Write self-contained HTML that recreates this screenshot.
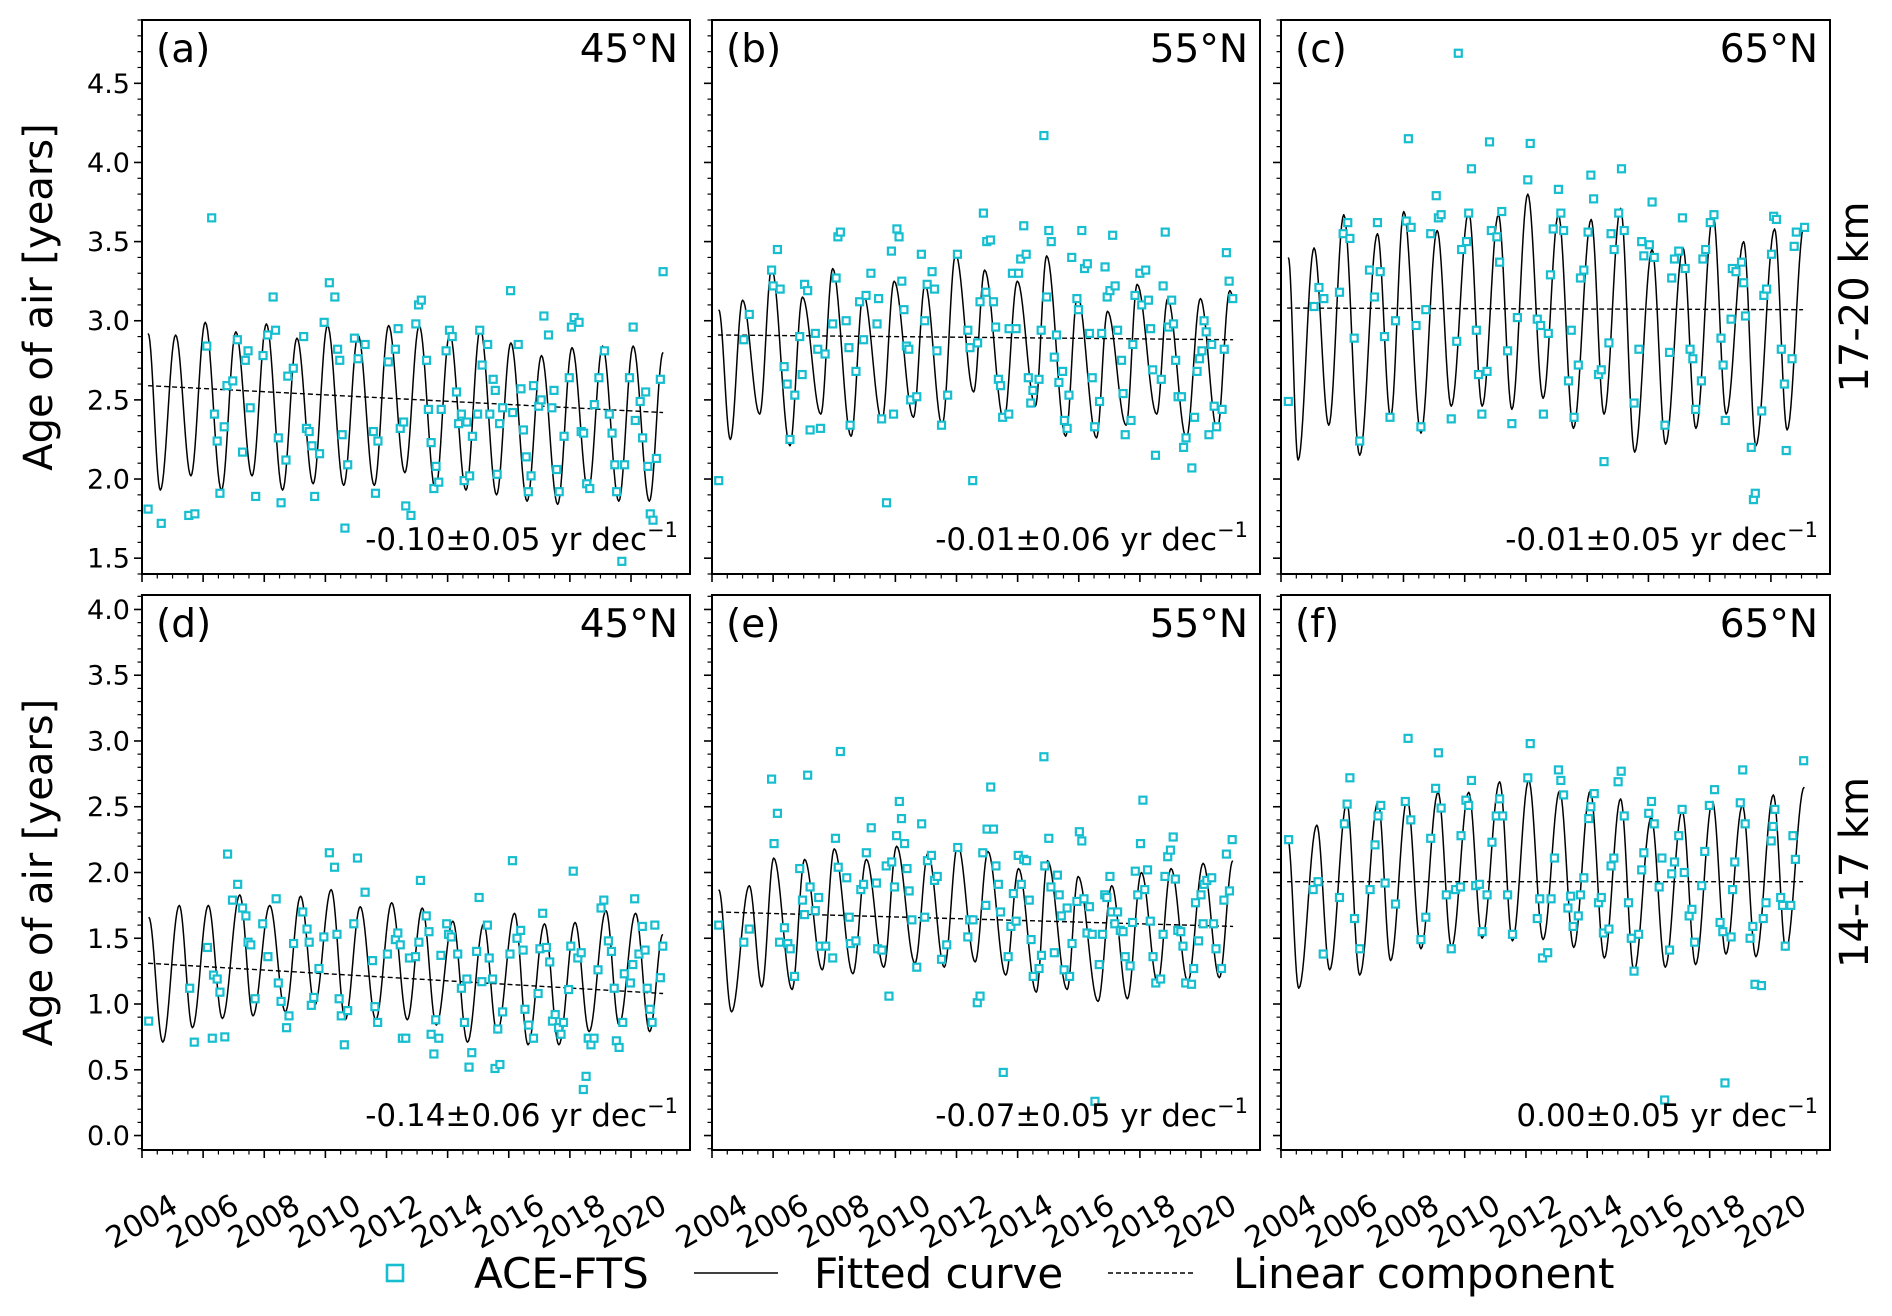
<!DOCTYPE html>
<html><head><meta charset="utf-8"><style>
html,body{margin:0;padding:0;background:#fff;}
svg{display:block;font-family:"DejaVu Sans","Liberation Sans",sans-serif;}
</style></head><body>
<svg id="chart" width="1892" height="1316" viewBox="0 0 1892 1316" xmlns="http://www.w3.org/2000/svg"></svg>
<script>
// ---------- data ----------
const xTickLabels = ["2004","2006","2008","2010","2012","2014","2016","2018","2020"];
const yTickLabelsTop = ["1.5","2.0","2.5","3.0","3.5","4.0","4.5"];
const yTickLabelsBottom = ["0.0","0.5","1.0","1.5","2.0","2.5","3.0","3.5","4.0"];
const panelTags = ["(a)","(b)","(c)","(d)","(e)","(f)"];
const panelLats = ["45°N","55°N","65°N","45°N","55°N","65°N"];
const trendTexts = ["-0.10±0.05 yr dec","-0.01±0.06 yr dec","-0.01±0.05 yr dec","-0.14±0.06 yr dec","-0.07±0.05 yr dec","0.00±0.05 yr dec"];
const rowLabels = ["17-20 km","14-17 km"];

const trendYears = [2004.2, 2021.05];
const trend_a = [2.59, 2.42];
const trend_b = [2.91, 2.88];
const trend_c = [3.08, 3.07];
const trend_d = [1.31, 1.08];
const trend_e = [1.70, 1.59];
const trend_f = [1.93, 1.93];

const fit_a = [[2004.2,2.92],[2004.6,1.93],[2005.1,2.91],[2005.6,2.02],[2006.07,2.99],[2006.6,1.93],[2007.07,2.93],[2007.6,2.02],[2008.07,2.98],[2008.6,1.93],[2009.07,2.89],[2009.6,1.97],[2010.07,2.97],[2010.6,1.96],[2011.07,2.91],[2011.6,1.96],[2012.07,2.97],[2012.6,2.04],[2013.07,2.97],[2013.6,1.93],[2014.07,2.92],[2014.6,1.93],[2015.07,2.95],[2015.6,1.90],[2016.07,2.86],[2016.6,1.86],[2017.07,2.78],[2017.6,1.84],[2018.07,2.83],[2018.6,1.92],[2019.07,2.84],[2019.6,1.86],[2020.07,2.84],[2020.6,1.86],[2021.05,2.80]];
const fit_b = [[2004.22,3.07],[2004.6,2.25],[2005.0,3.13],[2005.56,2.41],[2005.95,3.33],[2006.55,2.21],[2006.96,3.15],[2007.56,2.41],[2007.95,3.33],[2008.55,2.27],[2008.95,3.17],[2009.56,2.37],[2009.96,3.25],[2010.59,2.39],[2010.97,3.23],[2011.53,2.34],[2011.97,3.42],[2012.56,2.55],[2012.92,3.32],[2013.55,2.37],[2013.99,3.25],[2014.58,2.46],[2014.95,3.41],[2015.57,2.27],[2015.96,3.16],[2016.58,2.26],[2016.94,3.06],[2017.55,2.34],[2017.91,3.23],[2018.55,2.41],[2018.91,3.14],[2019.52,2.26],[2019.98,3.14],[2020.53,2.31],[2020.94,3.19],[2021.04,3.16]];
const fit_c = [[2004.24,3.40],[2004.56,2.12],[2005.08,3.46],[2005.56,2.34],[2006.05,3.67],[2006.57,2.15],[2007.15,3.55],[2007.58,2.39],[2008.01,3.69],[2008.57,2.29],[2009.1,3.57],[2009.56,2.46],[2010.13,3.69],[2010.57,2.46],[2011.1,3.67],[2011.54,2.44],[2012.06,3.80],[2012.56,2.51],[2013.06,3.67],[2013.55,2.32],[2014.13,3.64],[2014.55,2.41],[2015.09,3.71],[2015.55,2.17],[2016.12,3.45],[2016.56,2.22],[2017.13,3.46],[2017.55,2.32],[2018.11,3.67],[2018.54,2.41],[2019.11,3.50],[2019.51,2.21],[2020.12,3.58],[2020.53,2.31],[2021.09,3.61]];
const fit_d = [[2004.22,1.66],[2004.68,0.71],[2005.22,1.75],[2005.65,0.82],[2006.17,1.75],[2006.63,0.89],[2007.2,1.83],[2007.63,0.91],[2008.18,1.75],[2008.69,0.94],[2009.19,1.82],[2009.65,0.99],[2010.19,1.87],[2010.65,0.88],[2011.14,1.74],[2011.65,0.88],[2012.17,1.77],[2012.68,0.88],[2013.17,1.73],[2013.63,0.84],[2014.17,1.63],[2014.65,0.71],[2015.18,1.61],[2015.62,0.78],[2016.19,1.69],[2016.63,0.69],[2017.17,1.61],[2017.64,0.69],[2018.17,1.62],[2018.63,0.79],[2019.18,1.71],[2019.61,0.84],[2020.15,1.69],[2020.61,0.79],[2021.04,1.53]];
const fit_e = [[2004.22,1.87],[2004.64,0.94],[2005.22,1.90],[2005.63,1.13],[2006.02,2.11],[2006.62,1.11],[2007.03,2.10],[2007.61,1.26],[2008.0,2.18],[2008.61,1.23],[2009.05,2.10],[2009.62,1.28],[2010.04,2.20],[2010.64,1.31],[2011.07,2.15],[2011.6,1.28],[2012.04,2.21],[2012.61,1.32],[2013.03,2.16],[2013.61,1.22],[2014.03,2.03],[2014.61,1.09],[2014.98,2.09],[2015.62,1.11],[2015.98,1.97],[2016.63,1.02],[2017.08,1.90],[2017.59,1.04],[2018.05,2.00],[2018.58,1.16],[2019.02,2.03],[2019.57,1.17],[2020.07,2.07],[2020.6,1.20],[2021.04,2.09]];
const fit_f = [[2004.22,2.26],[2004.58,1.12],[2005.17,2.36],[2005.59,1.26],[2006.15,2.53],[2006.57,1.22],[2007.17,2.54],[2007.58,1.33],[2008.12,2.56],[2008.57,1.42],[2009.13,2.61],[2009.57,1.43],[2010.13,2.61],[2010.57,1.50],[2011.14,2.69],[2011.56,1.48],[2012.09,2.70],[2012.56,1.49],[2013.1,2.62],[2013.56,1.43],[2014.1,2.62],[2014.56,1.35],[2015.09,2.56],[2015.53,1.25],[2016.09,2.42],[2016.55,1.28],[2017.1,2.47],[2017.54,1.30],[2018.09,2.54],[2018.53,1.38],[2019.07,2.51],[2019.51,1.36],[2020.08,2.59],[2020.49,1.41],[2021.09,2.65]];

const obs_a = [[2004.2,1.81],[2004.63,1.72],[2005.53,1.77],[2005.73,1.78],[2006.12,2.84],[2006.28,3.65],[2006.37,2.41],[2006.46,2.24],[2006.55,1.91],[2006.69,2.33],[2006.78,2.59],[2006.97,2.62],[2007.12,2.88],[2007.38,2.75],[2007.47,2.81],[2007.54,2.45],[2007.29,2.17],[2007.72,1.89],[2007.96,2.78],[2008.11,2.91],[2008.29,3.15],[2008.37,2.94],[2008.46,2.26],[2008.55,1.85],[2008.71,2.12],[2008.77,2.65],[2008.95,2.70],[2009.29,2.90],[2009.38,2.32],[2009.47,2.30],[2009.56,2.21],[2009.65,1.89],[2009.81,2.16],[2009.96,2.99],[2010.13,3.24],[2010.31,3.15],[2010.4,2.82],[2010.47,2.75],[2010.55,2.28],[2010.64,1.69],[2010.73,2.09],[2010.95,2.89],[2011.07,2.76],[2011.3,2.85],[2011.57,2.30],[2011.64,1.91],[2011.72,2.24],[2012.06,2.74],[2012.29,2.82],[2012.38,2.95],[2012.45,2.32],[2012.56,2.36],[2012.63,1.83],[2012.8,1.77],[2012.96,2.98],[2013.05,3.10],[2013.14,3.13],[2013.31,2.75],[2013.46,2.23],[2013.55,1.94],[2013.62,2.08],[2013.71,1.98],[2013.37,2.44],[2013.79,2.44],[2013.95,2.81],[2014.06,2.94],[2014.15,2.90],[2014.29,2.55],[2014.36,2.35],[2014.45,2.41],[2014.54,1.99],[2014.63,2.36],[2014.72,2.02],[2014.81,2.27],[2014.98,2.41],[2015.05,2.94],[2015.13,2.72],[2015.31,2.85],[2015.38,2.41],[2015.49,2.63],[2015.56,2.56],[2015.62,2.03],[2015.7,2.35],[2015.8,2.45],[2016.06,3.19],[2016.13,2.42],[2016.31,2.85],[2016.4,2.57],[2016.48,2.31],[2016.57,2.14],[2016.64,1.92],[2016.73,2.02],[2016.81,2.59],[2016.98,2.46],[2017.06,2.50],[2017.15,3.03],[2017.3,2.91],[2017.41,2.45],[2017.48,2.56],[2017.57,2.06],[2017.65,1.92],[2017.81,2.27],[2017.98,2.64],[2018.05,2.96],[2018.14,3.02],[2018.3,2.99],[2018.37,2.30],[2018.45,2.29],[2018.55,1.97],[2018.65,1.94],[2018.8,2.47],[2018.95,2.64],[2019.13,2.81],[2019.29,2.41],[2019.38,2.29],[2019.47,2.09],[2019.53,1.92],[2019.7,1.48],[2019.79,2.09],[2019.95,2.64],[2020.07,2.96],[2020.14,2.37],[2020.3,2.49],[2020.38,2.26],[2020.48,2.55],[2020.55,2.08],[2020.63,1.78],[2020.72,1.74],[2020.83,2.13],[2020.96,2.63],[2021.05,3.31]];
const obs_b = [[2004.22,1.99],[2005.04,2.88],[2005.22,3.04],[2005.95,3.32],[2006.14,3.45],[2006.0,3.22],[2006.23,3.20],[2006.36,2.71],[2006.46,2.60],[2006.55,2.25],[2006.71,2.53],[2006.95,2.66],[2006.87,2.90],[2007.03,3.23],[2007.13,3.19],[2007.21,2.31],[2007.38,2.92],[2007.46,2.82],[2007.55,2.32],[2007.7,2.79],[2007.95,2.98],[2008.06,3.27],[2008.12,3.53],[2008.2,3.56],[2008.39,3.00],[2008.48,2.83],[2008.52,2.34],[2008.71,2.68],[2008.83,3.12],[2008.96,2.88],[2009.04,3.16],[2009.2,3.30],[2009.4,2.98],[2009.45,3.14],[2009.55,2.38],[2009.71,1.85],[2009.87,3.44],[2009.94,2.41],[2010.05,3.58],[2010.12,3.53],[2010.21,3.25],[2010.28,3.07],[2010.36,2.84],[2010.44,2.82],[2010.5,2.50],[2010.7,2.52],[2010.85,3.42],[2010.96,3.00],[2011.04,3.23],[2011.2,3.31],[2011.28,3.20],[2011.36,2.81],[2011.51,2.34],[2011.71,2.53],[2012.03,3.42],[2012.37,2.94],[2012.44,2.83],[2012.53,1.99],[2012.69,2.86],[2012.77,3.12],[2012.88,3.68],[2012.99,3.50],[2013.11,3.51],[2012.96,3.18],[2013.21,3.12],[2013.28,2.96],[2013.37,2.63],[2013.44,2.59],[2013.51,2.39],[2013.71,2.41],[2013.72,2.95],[2013.83,3.30],[2013.95,2.95],[2014.03,3.30],[2014.1,3.39],[2014.2,3.60],[2014.28,3.42],[2014.35,2.64],[2014.43,2.48],[2014.5,2.56],[2014.7,2.63],[2014.77,2.94],[2014.86,4.17],[2014.95,3.15],[2015.02,3.57],[2015.1,3.50],[2015.2,2.77],[2015.27,2.91],[2015.35,2.61],[2015.47,2.68],[2015.53,2.37],[2015.62,2.32],[2015.68,2.53],[2015.77,3.40],[2015.94,3.14],[2015.99,3.07],[2016.1,3.57],[2016.19,3.33],[2016.28,3.36],[2016.35,2.92],[2016.44,2.64],[2016.52,2.33],[2016.68,2.49],[2016.75,2.92],[2016.86,3.34],[2016.93,3.15],[2017.02,3.19],[2017.11,3.54],[2017.19,3.22],[2017.27,2.94],[2017.4,2.75],[2017.45,2.54],[2017.52,2.28],[2017.71,2.37],[2017.77,2.85],[2017.84,3.16],[2018.0,3.30],[2018.19,3.32],[2018.06,3.10],[2018.28,3.13],[2018.35,2.95],[2018.42,2.69],[2018.51,2.15],[2018.7,2.63],[2018.76,3.22],[2018.83,3.56],[2018.94,2.96],[2019.04,3.13],[2019.1,2.98],[2019.17,2.75],[2019.25,2.52],[2019.36,2.52],[2019.43,2.20],[2019.51,2.26],[2019.7,2.07],[2019.79,2.39],[2019.87,2.68],[2019.95,2.76],[2020.03,2.81],[2020.1,3.00],[2020.17,2.93],[2020.26,2.28],[2020.35,2.85],[2020.43,2.46],[2020.51,2.33],[2020.69,2.44],[2020.76,2.82],[2020.83,3.43],[2020.92,3.25],[2021.04,3.14]];
const obs_c = [[2004.24,2.49],[2005.08,3.09],[2005.24,3.21],[2005.4,3.14],[2005.91,3.18],[2006.03,3.55],[2006.18,3.62],[2006.25,3.52],[2006.39,2.89],[2006.57,2.24],[2006.89,3.32],[2007.05,3.15],[2007.15,3.62],[2007.24,3.31],[2007.38,2.90],[2007.56,2.39],[2007.74,3.00],[2008.09,3.63],[2008.16,4.15],[2008.25,3.59],[2008.41,2.97],[2008.57,2.33],[2008.73,3.07],[2008.89,3.55],[2009.07,3.79],[2009.14,3.65],[2009.23,3.67],[2009.56,2.38],[2009.74,2.87],[2009.79,4.69],[2009.9,3.45],[2010.06,3.50],[2010.13,3.68],[2010.22,3.96],[2010.38,2.94],[2010.45,2.66],[2010.56,2.41],[2010.73,2.68],[2010.81,4.13],[2010.87,3.57],[2011.05,3.53],[2011.14,3.37],[2011.21,3.69],[2011.4,2.81],[2011.54,2.35],[2011.72,3.02],[2012.06,3.89],[2012.14,4.12],[2012.37,3.01],[2012.48,2.97],[2012.57,2.41],[2012.73,2.92],[2012.8,3.29],[2012.89,3.58],[2013.06,3.83],[2013.14,3.68],[2013.23,3.57],[2013.39,2.62],[2013.48,2.94],[2013.57,2.39],[2013.71,2.72],[2013.78,3.27],[2013.89,3.32],[2014.03,3.56],[2014.12,3.92],[2014.21,3.77],[2014.37,2.66],[2014.46,2.69],[2014.55,2.11],[2014.71,2.86],[2014.78,3.55],[2014.88,3.45],[2015.03,3.68],[2015.12,3.96],[2015.21,3.57],[2015.53,2.48],[2015.69,2.82],[2015.78,3.50],[2015.85,3.41],[2016.03,3.48],[2016.12,3.75],[2016.19,3.40],[2016.54,2.34],[2016.69,2.80],[2016.76,3.27],[2016.85,3.39],[2016.99,3.44],[2017.11,3.65],[2017.2,3.33],[2017.36,2.82],[2017.45,2.76],[2017.54,2.44],[2017.73,2.62],[2017.78,3.39],[2017.87,3.45],[2018.02,3.62],[2018.14,3.67],[2018.37,2.89],[2018.44,2.72],[2018.51,2.37],[2018.7,3.01],[2018.74,3.33],[2018.86,3.31],[2019.04,3.37],[2019.11,3.24],[2019.17,3.03],[2019.36,2.20],[2019.43,1.87],[2019.49,1.91],[2019.7,2.43],[2019.77,3.16],[2019.86,3.20],[2020.02,3.42],[2020.09,3.66],[2020.18,3.64],[2020.34,2.82],[2020.44,2.60],[2020.5,2.18],[2020.69,2.76],[2020.76,3.47],[2020.83,3.56],[2021.1,3.59]];
const obs_d = [[2004.22,0.87],[2005.56,1.12],[2005.71,0.71],[2006.14,1.43],[2006.3,0.74],[2006.34,1.22],[2006.46,1.19],[2006.55,1.09],[2006.71,0.75],[2006.8,2.14],[2007.13,1.91],[2006.96,1.79],[2007.29,1.73],[2007.4,1.67],[2007.47,1.47],[2007.56,1.45],[2007.7,1.04],[2007.95,1.61],[2008.12,1.36],[2008.39,1.80],[2008.46,1.16],[2008.55,1.02],[2008.73,0.82],[2008.81,0.91],[2008.96,1.46],[2009.26,1.70],[2009.4,1.57],[2009.47,1.47],[2009.54,0.99],[2009.62,1.05],[2009.79,1.27],[2009.95,1.51],[2010.13,2.15],[2010.3,2.04],[2010.38,1.53],[2010.45,1.04],[2010.52,0.91],[2010.62,0.69],[2010.73,0.95],[2010.93,1.61],[2011.05,2.11],[2011.3,1.85],[2011.54,1.33],[2011.62,0.98],[2011.71,0.86],[2012.03,1.38],[2012.29,1.49],[2012.37,1.54],[2012.45,1.45],[2012.52,0.74],[2012.63,0.74],[2012.75,1.35],[2012.95,1.36],[2013.06,1.47],[2013.11,1.94],[2013.3,1.67],[2013.39,1.55],[2013.46,0.77],[2013.55,0.62],[2013.61,0.88],[2013.71,0.74],[2013.78,1.37],[2013.97,1.61],[2014.03,1.53],[2014.12,1.51],[2014.33,1.38],[2014.45,1.12],[2014.55,0.86],[2014.63,1.19],[2014.7,0.52],[2014.79,0.63],[2014.95,1.40],[2015.03,1.81],[2015.12,1.17],[2015.3,1.60],[2015.36,1.35],[2015.47,1.19],[2015.55,0.51],[2015.71,0.54],[2015.64,0.81],[2015.8,0.94],[2016.04,1.38],[2016.12,2.09],[2016.27,1.50],[2016.39,1.56],[2016.47,1.41],[2016.53,0.96],[2016.65,0.84],[2016.81,0.74],[2016.96,1.08],[2017.02,1.42],[2017.11,1.69],[2017.23,1.43],[2017.34,1.32],[2017.43,0.87],[2017.52,0.92],[2017.63,0.82],[2017.71,0.77],[2017.79,0.86],[2017.96,1.11],[2018.03,1.44],[2018.11,2.01],[2018.26,1.35],[2018.37,1.39],[2018.44,0.35],[2018.53,0.45],[2018.6,0.74],[2018.69,0.69],[2018.79,0.74],[2018.92,1.26],[2019.02,1.73],[2019.11,1.79],[2019.26,1.48],[2019.36,1.40],[2019.45,1.12],[2019.52,0.72],[2019.61,0.67],[2019.73,0.86],[2019.78,1.23],[2019.98,1.16],[2020.06,1.30],[2020.12,1.80],[2020.26,1.38],[2020.37,1.59],[2020.46,1.41],[2020.53,1.12],[2020.62,0.96],[2020.69,0.86],[2020.78,1.60],[2020.96,1.20],[2021.04,1.44]];
const obs_e = [[2004.22,1.60],[2005.04,1.47],[2005.22,1.57],[2005.95,2.71],[2006.14,2.45],[2006.03,2.22],[2006.21,1.47],[2006.37,1.58],[2006.48,1.46],[2006.56,1.42],[2006.7,1.21],[2006.87,2.03],[2006.96,1.79],[2007.03,1.68],[2007.13,2.74],[2007.21,1.89],[2007.38,1.71],[2007.49,1.81],[2007.54,1.44],[2007.72,1.44],[2007.95,1.35],[2008.04,2.26],[2008.13,2.04],[2008.2,2.92],[2008.41,1.96],[2008.49,1.66],[2008.53,1.46],[2008.71,1.48],[2008.87,1.87],[2008.96,1.91],[2009.05,2.15],[2009.21,2.34],[2009.38,1.92],[2009.42,1.42],[2009.56,1.41],[2009.7,2.05],[2009.79,1.06],[2009.88,2.08],[2009.97,1.89],[2010.04,2.28],[2010.13,2.54],[2010.2,2.41],[2010.3,2.22],[2010.38,2.03],[2010.45,1.86],[2010.54,1.64],[2010.7,1.28],[2010.86,2.37],[2010.96,1.66],[2011.05,2.09],[2011.18,2.13],[2011.28,1.94],[2011.37,1.97],[2011.51,1.34],[2011.68,1.45],[2012.04,2.19],[2012.37,1.51],[2012.43,1.64],[2012.54,1.64],[2012.68,1.01],[2012.77,1.06],[2012.86,2.15],[2012.96,1.75],[2013.0,2.33],[2013.12,2.65],[2013.21,2.33],[2013.29,2.05],[2013.37,1.91],[2013.44,1.70],[2013.53,0.48],[2013.69,1.36],[2013.78,1.59],[2013.86,1.84],[2013.95,1.63],[2014.02,2.13],[2014.12,1.91],[2014.2,2.10],[2014.29,2.09],[2014.38,1.79],[2014.44,1.49],[2014.51,1.21],[2014.7,1.27],[2014.78,1.37],[2014.86,2.88],[2014.89,2.05],[2015.02,2.26],[2015.09,1.89],[2015.2,1.39],[2015.3,1.98],[2015.36,1.83],[2015.43,1.67],[2015.52,1.26],[2015.62,1.73],[2015.7,1.21],[2015.78,1.46],[2015.94,1.78],[2016.02,2.31],[2016.1,2.24],[2016.17,1.80],[2016.27,1.54],[2016.35,1.74],[2016.44,1.53],[2016.53,0.26],[2016.67,1.30],[2016.78,1.53],[2016.85,1.83],[2016.92,1.81],[2017.02,1.97],[2017.08,1.70],[2017.18,1.61],[2017.27,1.70],[2017.36,1.56],[2017.45,1.55],[2017.52,1.36],[2017.68,1.29],[2017.76,1.62],[2017.85,2.01],[2017.93,1.83],[2018.02,2.22],[2018.1,2.55],[2018.16,1.87],[2018.25,2.02],[2018.34,1.63],[2018.43,1.36],[2018.52,1.16],[2018.68,1.19],[2018.76,1.53],[2018.82,1.97],[2018.91,2.12],[2019.0,2.17],[2019.09,2.27],[2019.16,1.95],[2019.24,1.56],[2019.34,1.55],[2019.41,1.44],[2019.5,1.16],[2019.69,1.15],[2019.76,1.27],[2019.82,1.77],[2019.92,1.48],[2020.0,1.83],[2020.07,1.61],[2020.1,1.91],[2020.19,1.94],[2020.35,1.96],[2020.41,1.61],[2020.49,1.42],[2020.67,1.27],[2020.75,1.79],[2020.83,2.14],[2020.93,1.86],[2021.02,2.25]];
const obs_f = [[2004.25,2.25],[2005.05,1.87],[2005.21,1.93],[2005.38,1.38],[2005.91,1.81],[2006.07,2.37],[2006.16,2.52],[2006.25,2.72],[2006.4,1.65],[2006.57,1.42],[2006.91,1.87],[2007.07,2.21],[2007.17,2.43],[2007.26,2.51],[2007.4,1.92],[2007.74,1.76],[2008.06,2.54],[2008.15,3.02],[2008.24,2.40],[2008.57,1.49],[2008.73,1.66],[2008.89,2.26],[2009.05,2.64],[2009.14,2.91],[2009.23,2.49],[2009.4,1.83],[2009.56,1.42],[2009.7,1.87],[2009.86,1.89],[2009.88,2.28],[2010.04,2.55],[2010.13,2.51],[2010.22,2.70],[2010.36,1.90],[2010.48,1.91],[2010.57,1.55],[2010.73,1.83],[2010.89,2.23],[2011.03,2.43],[2011.14,2.56],[2011.24,2.43],[2011.4,1.83],[2011.56,1.53],[2012.06,2.72],[2012.14,2.98],[2012.37,1.65],[2012.45,1.80],[2012.54,1.35],[2012.71,1.39],[2012.82,1.80],[2012.93,2.11],[2013.06,2.78],[2013.14,2.70],[2013.23,2.59],[2013.37,1.73],[2013.46,1.82],[2013.54,1.59],[2013.71,1.67],[2013.78,1.83],[2013.89,1.96],[2014.05,2.41],[2014.12,2.50],[2014.23,2.60],[2014.37,1.77],[2014.46,1.81],[2014.53,1.54],[2014.71,1.57],[2014.78,2.05],[2014.87,2.11],[2015.01,2.69],[2015.11,2.77],[2015.21,2.43],[2015.35,1.77],[2015.44,1.50],[2015.53,1.25],[2015.68,1.53],[2015.78,2.02],[2015.85,2.15],[2016.01,2.45],[2016.1,2.54],[2016.19,2.37],[2016.35,1.89],[2016.44,2.11],[2016.53,0.27],[2016.69,1.41],[2016.76,1.99],[2016.85,2.08],[2016.99,2.28],[2017.1,2.48],[2017.17,2.00],[2017.33,1.67],[2017.42,1.72],[2017.51,1.47],[2017.74,1.90],[2017.84,2.16],[2017.99,2.51],[2018.16,2.63],[2018.34,1.62],[2018.43,1.55],[2018.5,0.40],[2018.7,1.51],[2018.75,1.87],[2018.82,2.08],[2019.0,2.53],[2019.08,2.78],[2019.16,2.37],[2019.32,1.50],[2019.41,1.59],[2019.48,1.15],[2019.69,1.14],[2019.75,1.65],[2019.84,1.77],[2020.01,2.24],[2020.07,2.35],[2020.13,2.48],[2020.32,1.81],[2020.38,1.75],[2020.47,1.44],[2020.65,1.75],[2020.72,2.28],[2020.8,2.10],[2021.07,2.85]];

// ---------- layout ----------
const XMIN = 2004, XMAX = 2021.93;
const COLS = [[142,690],[712,1260],[1281,1830]];
const ROWS = [{top:20,bot:574,ymin:1.40,ymax:4.90,labels:yTickLabelsTop,minorFrom:1.4,minorTo:4.9},
              {top:595,bot:1150,ymin:-0.11,ymax:4.11,labels:yTickLabelsBottom,minorFrom:-0.1,minorTo:4.1}];
const CYAN = "#17becf";
const NS = "http://www.w3.org/2000/svg";
const svg = document.getElementById("chart");

function mk(tag, attrs, parent){
  const e = document.createElementNS(NS, tag);
  for (const k in attrs) e.setAttribute(k, attrs[k]);
  (parent||svg).appendChild(e);
  return e;
}

const panels = [
  {r:0,c:0,obs:obs_a,fit:fit_a,trend:trend_a},
  {r:0,c:1,obs:obs_b,fit:fit_b,trend:trend_b},
  {r:0,c:2,obs:obs_c,fit:fit_c,trend:trend_c},
  {r:1,c:0,obs:obs_d,fit:fit_d,trend:trend_d},
  {r:1,c:1,obs:obs_e,fit:fit_e,trend:trend_e},
  {r:1,c:2,obs:obs_f,fit:fit_f,trend:trend_f}
];

panels.forEach((p, i) => {
  const row = ROWS[p.r], col = COLS[p.c];
  const L = col[0], R = col[1], T = row.top, B = row.bot;
  const xs = t => L + (t - XMIN) / (XMAX - XMIN) * (R - L);
  const ys = v => B - (v - row.ymin) / (row.ymax - row.ymin) * (B - T);

  const g = mk("g", {});
  
  

  const clip = mk("clipPath", {id: "clip" + i}, g);
  mk("rect", {x: L, y: T, width: R - L, height: B - T}, clip);

  const plot = mk("g", {"clip-path": "url(#clip" + i + ")"}, g);
  
  

  const tl = mk("line", {x1: xs(trendYears[0]), y1: ys(p.trend[0]), x2: xs(trendYears[1]), y2: ys(p.trend[1]),
    stroke: "#000", "stroke-width": 1.4, "stroke-dasharray": "5,3"}, plot);
  
  

  let d = "";
  for (let k = 0; k < p.fit.length - 1; k++) {
    const [t0, v0] = p.fit[k], [t1, v1] = p.fit[k + 1];
    const n = 14;
    for (let j = (k === 0 ? 0 : 1); j <= n; j++) {
      const s = j / n;
      const t = t0 + (t1 - t0) * s;
      const v = v0 + (v1 - v0) * (1 - Math.cos(Math.PI * s)) / 2;
      d += (d ? "L" : "M") + xs(t).toFixed(2) + "," + ys(v).toFixed(2);
    }
  }
  const fc = mk("path", {d: d, fill: "none", stroke: "#000", "stroke-width": 1.5, "stroke-linejoin": "round"}, plot);
  
  

  p.obs.forEach(o => {
    const m = mk("rect", {x: xs(o[0]) - 3.5, y: ys(o[1]) - 3.5, width: 7, height: 7, fill: "#fff", stroke: CYAN, "stroke-width": 2.2}, plot);
    
    
  });

  const fr = mk("rect", {x: L, y: T, width: R - L, height: B - T, fill: "none", stroke: "#000", "stroke-width": 2}, g);
  
  

  for (let t = 2004; t <= XMAX + 1e-6; t += 0.5) {
    const major = Math.abs(t / 2 - Math.round(t / 2)) < 1e-6;
    const tk = mk("line", {x1: xs(t), x2: xs(t), y1: B, y2: B + (major ? 8 : 4.5), stroke: "#000", "stroke-width": major ? 1.6 : 1.2}, g);
    
    
  }
  if (p.r === 1) {
    xTickLabels.forEach(lab => {
      const x = xs(parseFloat(lab)), y = 1222;
      const tx = mk("text", {x: x, y: y, "font-size": 30, "text-anchor": "middle", "dominant-baseline": "central",
        transform: "rotate(-30," + x + "," + y + ")"}, g);
      tx.textContent = lab;
      
      
    });
  }
  for (let m = Math.round(row.minorFrom * 10); m <= Math.round(row.minorTo * 10); m++) {
    const v = m / 10;
    const major = m % 5 === 0;
    const tk = mk("line", {x1: L, x2: L - (major ? 8 : 4.5), y1: ys(v), y2: ys(v), stroke: "#000", "stroke-width": major ? 1.6 : 1.2}, g);
    
    
  }
  if (p.c === 0) {
    row.labels.forEach(lab => {
      const tx = mk("text", {x: L - 12, y: ys(parseFloat(lab)) + 9.5, "font-size": 27, "text-anchor": "end"}, g);
      tx.textContent = lab;
      
      
    });
  }
  const pt = mk("text", {x: L + 14, y: T + 42, "font-size": 39}, g);
  pt.textContent = panelTags[i];
  
  
  const lt = mk("text", {x: R - 12, y: T + 42, "font-size": 39, "text-anchor": "end"}, g);
  lt.textContent = panelLats[i];
  
  
  const tr = mk("text", {x: R - 12, y: B - 24, "font-size": 31, "text-anchor": "end"}, g);
  tr.textContent = trendTexts[i];
  const sup = mk("tspan", {"font-size": 21, dy: -13}, tr);
  sup.textContent = "\u22121";
  
  
});

ROWS.forEach((row, r) => {
  const cy = (row.top + row.bot) / 2;
  const yl = mk("text", {x: 52, y: cy, "font-size": 40, "text-anchor": "middle", transform: "rotate(-90,52," + cy + ")"});
  yl.textContent = "Age of air [years]";
  
  
  const rl = mk("text", {x: 1868, y: cy, "font-size": 40, "text-anchor": "middle", transform: "rotate(-90,1868," + cy + ")"});
  rl.textContent = rowLabels[r];
  
  
});

const lg = mk("g", {});


const lm = mk("rect", {x: 387, y: 1265, width: 16, height: 16, fill: "#fff", stroke: CYAN, "stroke-width": 2.6}, lg);


const l1 = mk("text", {x: 474, y: 1288, "font-size": 42}, lg);
l1.textContent = "ACE-FTS";


const ll = mk("line", {x1: 694, x2: 778, y1: 1273, y2: 1273, stroke: "#000", "stroke-width": 1.5}, lg);


const l2 = mk("text", {x: 814, y: 1288, "font-size": 42}, lg);
l2.textContent = "Fitted curve";


const ld = mk("line", {x1: 1108, x2: 1195, y1: 1273, y2: 1273, stroke: "#000", "stroke-width": 1.4, "stroke-dasharray": "5,3"}, lg);


const l3 = mk("text", {x: 1233, y: 1288, "font-size": 42}, lg);
l3.textContent = "Linear component";


</script>
</body></html>
